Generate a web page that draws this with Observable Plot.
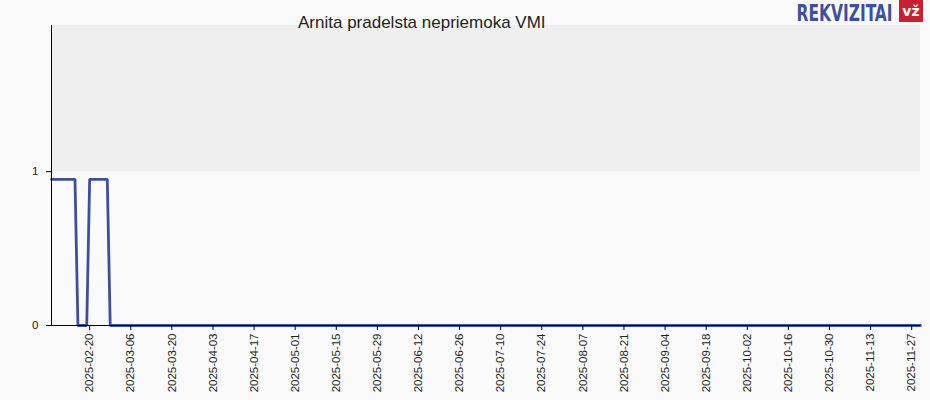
<!DOCTYPE html>
<html>
<head>
<meta charset="utf-8">
<script src="https://cdn.jsdelivr.net/npm/d3@7"></script>
<script src="https://cdn.jsdelivr.net/npm/@observablehq/plot@0.6"></script>
<style>
  html, body { margin: 0; padding: 0; background: #fafafa; }
  #wrap { position: relative; width: 930px; height: 400px; overflow: hidden; }
  #title { position: absolute; left: 298px; top: 13px; white-space: nowrap;
           font-family: "Liberation Sans", Arial, sans-serif; font-size: 17px; color: #222; }
  #rk { position: absolute; right: 37px; top: 0px; white-space: nowrap;
        font-family: "DejaVu Sans Condensed", "DejaVu Sans", sans-serif; font-weight: bold;
        font-size: 23px; line-height: normal; color: #3d4f9f; transform-origin: right top; }
  #vz { position: absolute; left: 899px; top: 0px; width: 24px; height: 22px; background: #c8202f; color: #fff;
        font-family: "DejaVu Sans", sans-serif; font-weight: bold; font-size: 14px; line-height: 22px; text-align: center; }
</style>
</head>
<body>
<div id="wrap">
  <div id="chart"></div>
  <div id="title">Arnita pradelsta nepriemoka VMI</div>
  <div id="rk">REKVIZITAI</div>
  <div id="vz">vž</div>
</div>
<script>
// Data
const dates = ["2025-02-07", "2025-02-15", "2025-02-16", "2025-02-19", "2025-02-20", "2025-02-26", "2025-02-27", "2025-11-30"];
const values = [0.95, 0.95, 0, 0, 0.95, 0.95, 0, 0];
const tickLabels = ["2025-02-20", "2025-03-06", "2025-03-20", "2025-04-03", "2025-04-17", "2025-05-01", "2025-05-15",
  "2025-05-29", "2025-06-12", "2025-06-26", "2025-07-10", "2025-07-24", "2025-08-07", "2025-08-21", "2025-09-04",
  "2025-09-18", "2025-10-02", "2025-10-16", "2025-10-30", "2025-11-13", "2025-11-27"];
const yTicks = [0, 1];
const yMax = 1.95;

const parse = d3.utcParse("%Y-%m-%d");
const fmt = d3.utcFormat("%Y-%m-%d");
const data = dates.map((d, i) => ({date: parse(d), value: values[i]}));
const xDomain = [data[0].date, data[data.length - 1].date];

const chart = Plot.plot({
  width: 930,
  height: 400,
  marginLeft: 51,
  marginRight: 10,
  marginTop: 25,
  marginBottom: 75,
  style: {background: "transparent", fontFamily: "'Liberation Sans', Arial, sans-serif", fontSize: "11.5px", color: "#222"},
  x: {type: "utc", domain: xDomain, label: null},
  y: {domain: [0, yMax], label: null},
  marks: [
    Plot.rect([{}], {x1: xDomain[0], x2: xDomain[1], y1: 1, y2: yMax, fill: "#efefef"}),
    Plot.line(data, {x: "date", y: "value", stroke: "#3d4f9f", strokeWidth: 2.8, strokeLinejoin: "miter"}),
    Plot.axisX(tickLabels.map(parse), {tickFormat: fmt, tickRotate: -90, tickSize: 5, tickPadding: 3, stroke: "#000", fill: "#222", fontSize: 11.5, label: null}),
    Plot.axisY(yTicks, {tickFormat: "d", tickSize: 5, tickPadding: 8, stroke: "#000", fill: "#222", fontSize: 11.5, label: null}),
    Plot.ruleY([0], {stroke: "#000"}),
    Plot.ruleX([xDomain[0]], {stroke: "#000"})
  ]
});
document.getElementById("chart").appendChild(chart);

const rk = document.getElementById("rk");
const w = rk.getBoundingClientRect().width;
rk.style.transform = `scaleX(${96 / w})`;
</script>
</body>
</html>
